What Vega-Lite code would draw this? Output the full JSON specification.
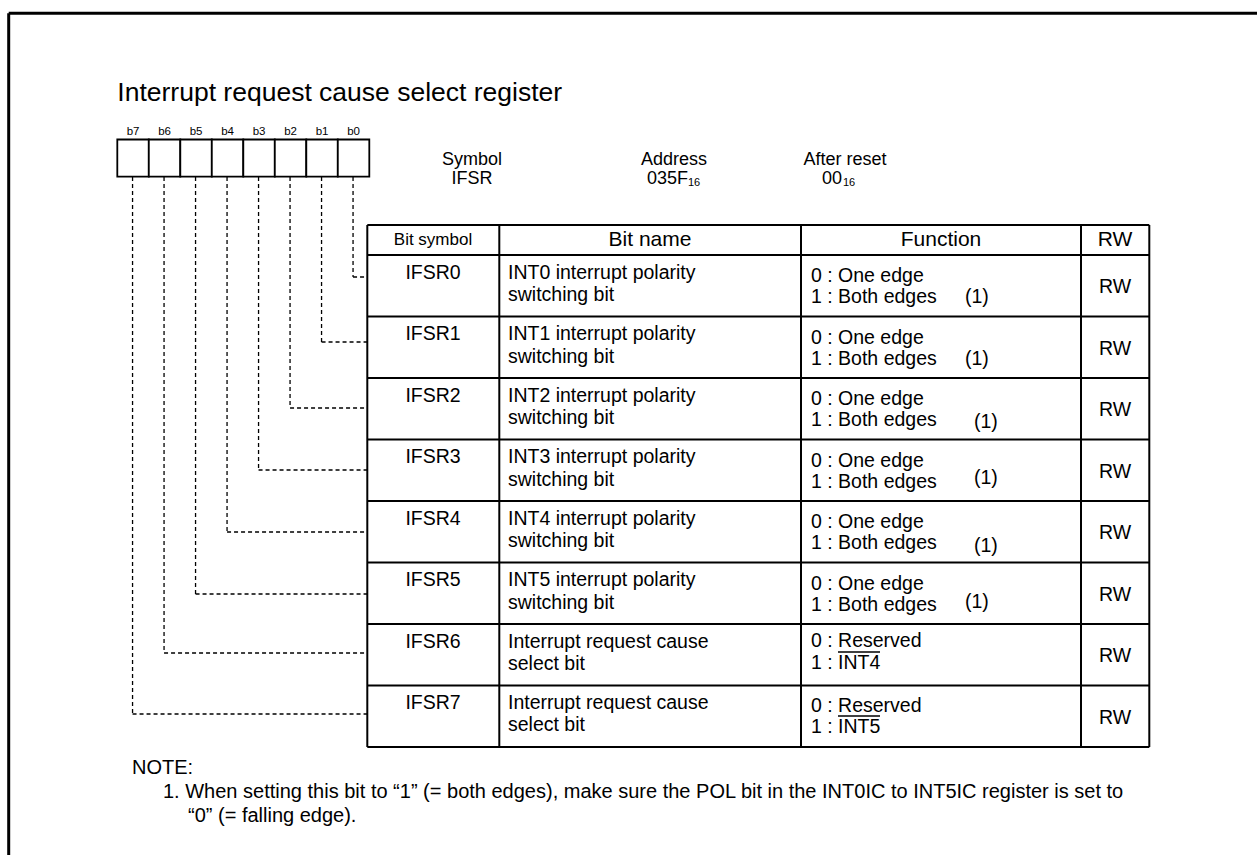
{
  "$schema": "https://vega.github.io/schema/vega-lite/v6.json",
  "width": 1257,
  "height": 855,
  "autosize": {"type": "none"},
  "padding": 0,
  "background": "white",
  "config": {"view": {"stroke": null}, "text": {"font": "Liberation Sans", "color": "black"}},
  "datasets": {
    "segments": [
      {"kind": "frame", "x": 8.7, "x2": 1257, "y": 13.3, "y2": 13.3},
      {"kind": "frame", "x": 8.7, "x2": 8.7, "y": 13.3, "y2": 855},
      {"kind": "table", "x": 367.3, "x2": 1149.3, "y": 225, "y2": 225},
      {"kind": "table", "x": 367.3, "x2": 1149.3, "y": 255, "y2": 255},
      {"kind": "table", "x": 367.3, "x2": 1149.3, "y": 316.5, "y2": 316.5},
      {"kind": "table", "x": 367.3, "x2": 1149.3, "y": 378, "y2": 378},
      {"kind": "table", "x": 367.3, "x2": 1149.3, "y": 439.5, "y2": 439.5},
      {"kind": "table", "x": 367.3, "x2": 1149.3, "y": 501, "y2": 501},
      {"kind": "table", "x": 367.3, "x2": 1149.3, "y": 562.5, "y2": 562.5},
      {"kind": "table", "x": 367.3, "x2": 1149.3, "y": 624, "y2": 624},
      {"kind": "table", "x": 367.3, "x2": 1149.3, "y": 685.5, "y2": 685.5},
      {"kind": "table", "x": 367.3, "x2": 1149.3, "y": 747, "y2": 747},
      {"kind": "table", "x": 367.3, "x2": 367.3, "y": 225, "y2": 747},
      {"kind": "table", "x": 499.3, "x2": 499.3, "y": 225, "y2": 747},
      {"kind": "table", "x": 801, "x2": 801, "y": 225, "y2": 747},
      {"kind": "table", "x": 1081, "x2": 1081, "y": 225, "y2": 747},
      {"kind": "table", "x": 1149.3, "x2": 1149.3, "y": 225, "y2": 747},
      {"kind": "dash", "x": 353.05, "x2": 353.05, "y": 177, "y2": 277},
      {"kind": "dash", "x": 353.05, "x2": 367.3, "y": 277, "y2": 277},
      {"kind": "dash", "x": 321.55, "x2": 321.55, "y": 177, "y2": 342},
      {"kind": "dash", "x": 321.55, "x2": 367.3, "y": 342, "y2": 342},
      {"kind": "dash", "x": 290.05, "x2": 290.05, "y": 177, "y2": 408},
      {"kind": "dash", "x": 290.05, "x2": 367.3, "y": 408, "y2": 408},
      {"kind": "dash", "x": 258.55, "x2": 258.55, "y": 177, "y2": 470},
      {"kind": "dash", "x": 258.55, "x2": 367.3, "y": 470, "y2": 470},
      {"kind": "dash", "x": 227.05, "x2": 227.05, "y": 177, "y2": 532},
      {"kind": "dash", "x": 227.05, "x2": 367.3, "y": 532, "y2": 532},
      {"kind": "dash", "x": 195.55, "x2": 195.55, "y": 177, "y2": 594},
      {"kind": "dash", "x": 195.55, "x2": 367.3, "y": 594, "y2": 594},
      {"kind": "dash", "x": 164.05, "x2": 164.05, "y": 177, "y2": 653},
      {"kind": "dash", "x": 164.05, "x2": 367.3, "y": 653, "y2": 653},
      {"kind": "dash", "x": 132.55, "x2": 132.55, "y": 177, "y2": 714},
      {"kind": "dash", "x": 132.55, "x2": 367.3, "y": 714, "y2": 714},
      {"kind": "over", "x": 838, "x2": 880, "y": 652, "y2": 652},
      {"kind": "over", "x": 838, "x2": 880, "y": 716, "y2": 716}
    ],
    "cells": [
      {"bit": "b7", "x": 117.3, "x2": 148.8, "y": 139.5, "y2": 176.7},
      {"bit": "b6", "x": 148.8, "x2": 180.3, "y": 139.5, "y2": 176.7},
      {"bit": "b5", "x": 180.3, "x2": 211.8, "y": 139.5, "y2": 176.7},
      {"bit": "b4", "x": 211.8, "x2": 243.3, "y": 139.5, "y2": 176.7},
      {"bit": "b3", "x": 243.3, "x2": 274.8, "y": 139.5, "y2": 176.7},
      {"bit": "b2", "x": 274.8, "x2": 306.3, "y": 139.5, "y2": 176.7},
      {"bit": "b1", "x": 306.3, "x2": 337.8, "y": 139.5, "y2": 176.7},
      {"bit": "b0", "x": 337.8, "x2": 369.3, "y": 139.5, "y2": 176.7}
    ],
    "texts": [
      {"kind": "title", "x": 117.3, "y": 92.5, "text": "Interrupt request cause select register"},
      {"kind": "bit", "x": 133.05, "y": 131.5, "text": "b7"},
      {"kind": "bit", "x": 164.55, "y": 131.5, "text": "b6"},
      {"kind": "bit", "x": 196.05, "y": 131.5, "text": "b5"},
      {"kind": "bit", "x": 227.55, "y": 131.5, "text": "b4"},
      {"kind": "bit", "x": 259.05, "y": 131.5, "text": "b3"},
      {"kind": "bit", "x": 290.55, "y": 131.5, "text": "b2"},
      {"kind": "bit", "x": 322.05, "y": 131.5, "text": "b1"},
      {"kind": "bit", "x": 353.55, "y": 131.5, "text": "b0"},
      {"kind": "info", "x": 472, "y": 160, "text": "Symbol"},
      {"kind": "info", "x": 472, "y": 179, "text": "IFSR"},
      {"kind": "info", "x": 674, "y": 160, "text": "Address"},
      {"kind": "info", "x": 845, "y": 160, "text": "After reset"},
      {"kind": "infoL", "x": 647, "y": 179, "text": "035F"},
      {"kind": "infoL", "x": 822, "y": 179, "text": "00"},
      {"kind": "sub", "x": 688, "y": 182.5, "text": "16"},
      {"kind": "sub", "x": 843, "y": 182.5, "text": "16"},
      {"kind": "hdrS", "x": 433, "y": 240, "text": "Bit symbol"},
      {"kind": "hdr", "x": 650, "y": 240, "text": "Bit name"},
      {"kind": "hdr", "x": 941, "y": 240, "text": "Function"},
      {"kind": "hdr", "x": 1115, "y": 240, "text": "RW"},

      {"kind": "cellC", "x": 433, "y": 272.5, "text": "IFSR0"},
      {"kind": "cellL", "x": 508, "y": 272.5, "text": "INT0 interrupt polarity"},
      {"kind": "cellL", "x": 508, "y": 295, "text": "switching bit"},
      {"kind": "cellL", "x": 811, "y": 276, "text": "0 : One edge"},
      {"kind": "cellL", "x": 811, "y": 297, "text": "1 : Both edges"},
      {"kind": "cellL", "x": 965, "y": 297, "text": "(1)"},
      {"kind": "cellC", "x": 1115, "y": 287, "text": "RW"},

      {"kind": "cellC", "x": 433, "y": 334, "text": "IFSR1"},
      {"kind": "cellL", "x": 508, "y": 334, "text": "INT1 interrupt polarity"},
      {"kind": "cellL", "x": 508, "y": 356.5, "text": "switching bit"},
      {"kind": "cellL", "x": 811, "y": 337.5, "text": "0 : One edge"},
      {"kind": "cellL", "x": 811, "y": 358.5, "text": "1 : Both edges"},
      {"kind": "cellL", "x": 965, "y": 358.5, "text": "(1)"},
      {"kind": "cellC", "x": 1115, "y": 348.5, "text": "RW"},

      {"kind": "cellC", "x": 433, "y": 395.5, "text": "IFSR2"},
      {"kind": "cellL", "x": 508, "y": 395.5, "text": "INT2 interrupt polarity"},
      {"kind": "cellL", "x": 508, "y": 418, "text": "switching bit"},
      {"kind": "cellL", "x": 811, "y": 399, "text": "0 : One edge"},
      {"kind": "cellL", "x": 811, "y": 420, "text": "1 : Both edges"},
      {"kind": "cellL", "x": 974, "y": 422, "text": "(1)"},
      {"kind": "cellC", "x": 1115, "y": 410, "text": "RW"},

      {"kind": "cellC", "x": 433, "y": 457, "text": "IFSR3"},
      {"kind": "cellL", "x": 508, "y": 457, "text": "INT3 interrupt polarity"},
      {"kind": "cellL", "x": 508, "y": 479.5, "text": "switching bit"},
      {"kind": "cellL", "x": 811, "y": 460.5, "text": "0 : One edge"},
      {"kind": "cellL", "x": 811, "y": 481.5, "text": "1 : Both edges"},
      {"kind": "cellL", "x": 974, "y": 478, "text": "(1)"},
      {"kind": "cellC", "x": 1115, "y": 471.5, "text": "RW"},

      {"kind": "cellC", "x": 433, "y": 518.5, "text": "IFSR4"},
      {"kind": "cellL", "x": 508, "y": 518.5, "text": "INT4 interrupt polarity"},
      {"kind": "cellL", "x": 508, "y": 541, "text": "switching bit"},
      {"kind": "cellL", "x": 811, "y": 522, "text": "0 : One edge"},
      {"kind": "cellL", "x": 811, "y": 543, "text": "1 : Both edges"},
      {"kind": "cellL", "x": 974, "y": 546, "text": "(1)"},
      {"kind": "cellC", "x": 1115, "y": 533, "text": "RW"},

      {"kind": "cellC", "x": 433, "y": 580, "text": "IFSR5"},
      {"kind": "cellL", "x": 508, "y": 580, "text": "INT5 interrupt polarity"},
      {"kind": "cellL", "x": 508, "y": 602.5, "text": "switching bit"},
      {"kind": "cellL", "x": 811, "y": 583.5, "text": "0 : One edge"},
      {"kind": "cellL", "x": 811, "y": 604.5, "text": "1 : Both edges"},
      {"kind": "cellL", "x": 965, "y": 602, "text": "(1)"},
      {"kind": "cellC", "x": 1115, "y": 594.5, "text": "RW"},

      {"kind": "cellC", "x": 433, "y": 641.5, "text": "IFSR6"},
      {"kind": "cellL", "x": 508, "y": 641.5, "text": "Interrupt request cause"},
      {"kind": "cellL", "x": 508, "y": 664, "text": "select bit"},
      {"kind": "cellL", "x": 811, "y": 641, "text": "0 : Reserved"},
      {"kind": "cellL", "x": 811, "y": 663, "text": "1 : INT4"},
      {"kind": "cellC", "x": 1115, "y": 656, "text": "RW"},

      {"kind": "cellC", "x": 433, "y": 702.5, "text": "IFSR7"},
      {"kind": "cellL", "x": 508, "y": 702.5, "text": "Interrupt request cause"},
      {"kind": "cellL", "x": 508, "y": 725, "text": "select bit"},
      {"kind": "cellL", "x": 811, "y": 706, "text": "0 : Reserved"},
      {"kind": "cellL", "x": 811, "y": 727, "text": "1 : INT5"},
      {"kind": "cellC", "x": 1115, "y": 718, "text": "RW"},

      {"kind": "note", "x": 132, "y": 768, "text": "NOTE:"},
      {"kind": "note", "x": 163, "y": 792, "text": "1. When setting this bit to “1” (= both edges), make sure the POL bit in the INT0IC to INT5IC register is set to"},
      {"kind": "note", "x": 188, "y": 816, "text": "“0” (= falling edge)."}
    ]
  },
  "layer": [
    {
      "data": {"name": "segments"},
      "transform": [{"filter": "datum.kind === 'frame'"}],
      "mark": {"type": "rule", "stroke": "black", "strokeWidth": 3},
      "encoding": {
        "x": {"field": "x", "type": "quantitative", "scale": {"domain": [0, 1257], "nice": false, "zero": false}, "axis": null},
        "x2": {"field": "x2"},
        "y": {"field": "y", "type": "quantitative", "scale": {"domain": [0, 855], "nice": false, "zero": false, "reverse": true}, "axis": null},
        "y2": {"field": "y2"}
      }
    },
    {
      "data": {"name": "segments"},
      "transform": [{"filter": "datum.kind === 'dash'"}],
      "mark": {"type": "rule", "stroke": "black", "strokeWidth": 1.3, "strokeDash": [4, 3]},
      "encoding": {
        "x": {"field": "x", "type": "quantitative", "axis": null},
        "x2": {"field": "x2"},
        "y": {"field": "y", "type": "quantitative", "axis": null},
        "y2": {"field": "y2"}
      }
    },
    {
      "data": {"name": "cells"},
      "mark": {"type": "rect", "fill": "white", "stroke": "black", "strokeWidth": 1.8},
      "encoding": {
        "x": {"field": "x", "type": "quantitative", "axis": null},
        "x2": {"field": "x2"},
        "y": {"field": "y", "type": "quantitative", "axis": null},
        "y2": {"field": "y2"}
      }
    },
    {
      "data": {"name": "segments"},
      "transform": [{"filter": "datum.kind === 'table'"}],
      "mark": {"type": "rule", "stroke": "black", "strokeWidth": 2},
      "encoding": {
        "x": {"field": "x", "type": "quantitative", "axis": null},
        "x2": {"field": "x2"},
        "y": {"field": "y", "type": "quantitative", "axis": null},
        "y2": {"field": "y2"}
      }
    },
    {
      "data": {"name": "segments"},
      "transform": [{"filter": "datum.kind === 'over'"}],
      "mark": {"type": "rule", "stroke": "black", "strokeWidth": 1.3},
      "encoding": {
        "x": {"field": "x", "type": "quantitative", "axis": null},
        "x2": {"field": "x2"},
        "y": {"field": "y", "type": "quantitative", "axis": null},
        "y2": {"field": "y2"}
      }
    },
    {
      "data": {"name": "texts"},
      "transform": [{"filter": "datum.kind === 'title'"}],
      "mark": {"type": "text", "fontSize": 26.5, "align": "left", "baseline": "middle"},
      "encoding": {"x": {"field": "x", "type": "quantitative", "axis": null}, "y": {"field": "y", "type": "quantitative", "axis": null}, "text": {"field": "text"}}
    },
    {
      "data": {"name": "texts"},
      "transform": [{"filter": "datum.kind === 'bit'"}],
      "mark": {"type": "text", "fontSize": 11.5, "align": "center", "baseline": "middle"},
      "encoding": {"x": {"field": "x", "type": "quantitative", "axis": null}, "y": {"field": "y", "type": "quantitative", "axis": null}, "text": {"field": "text"}}
    },
    {
      "data": {"name": "texts"},
      "transform": [{"filter": "datum.kind === 'info'"}],
      "mark": {"type": "text", "fontSize": 18, "align": "center", "baseline": "middle"},
      "encoding": {"x": {"field": "x", "type": "quantitative", "axis": null}, "y": {"field": "y", "type": "quantitative", "axis": null}, "text": {"field": "text"}}
    },
    {
      "data": {"name": "texts"},
      "transform": [{"filter": "datum.kind === 'infoL'"}],
      "mark": {"type": "text", "fontSize": 18, "align": "left", "baseline": "middle"},
      "encoding": {"x": {"field": "x", "type": "quantitative", "axis": null}, "y": {"field": "y", "type": "quantitative", "axis": null}, "text": {"field": "text"}}
    },
    {
      "data": {"name": "texts"},
      "transform": [{"filter": "datum.kind === 'sub'"}],
      "mark": {"type": "text", "fontSize": 11, "align": "left", "baseline": "middle"},
      "encoding": {"x": {"field": "x", "type": "quantitative", "axis": null}, "y": {"field": "y", "type": "quantitative", "axis": null}, "text": {"field": "text"}}
    },
    {
      "data": {"name": "texts"},
      "transform": [{"filter": "datum.kind === 'hdrS'"}],
      "mark": {"type": "text", "fontSize": 17, "align": "center", "baseline": "middle"},
      "encoding": {"x": {"field": "x", "type": "quantitative", "axis": null}, "y": {"field": "y", "type": "quantitative", "axis": null}, "text": {"field": "text"}}
    },
    {
      "data": {"name": "texts"},
      "transform": [{"filter": "datum.kind === 'hdr'"}],
      "mark": {"type": "text", "fontSize": 21, "align": "center", "baseline": "middle"},
      "encoding": {"x": {"field": "x", "type": "quantitative", "axis": null}, "y": {"field": "y", "type": "quantitative", "axis": null}, "text": {"field": "text"}}
    },
    {
      "data": {"name": "texts"},
      "transform": [{"filter": "datum.kind === 'cellC'"}],
      "mark": {"type": "text", "fontSize": 19.5, "align": "center", "baseline": "middle"},
      "encoding": {"x": {"field": "x", "type": "quantitative", "axis": null}, "y": {"field": "y", "type": "quantitative", "axis": null}, "text": {"field": "text"}}
    },
    {
      "data": {"name": "texts"},
      "transform": [{"filter": "datum.kind === 'cellL'"}],
      "mark": {"type": "text", "fontSize": 19.5, "align": "left", "baseline": "middle"},
      "encoding": {"x": {"field": "x", "type": "quantitative", "axis": null}, "y": {"field": "y", "type": "quantitative", "axis": null}, "text": {"field": "text"}}
    },
    {
      "data": {"name": "texts"},
      "transform": [{"filter": "datum.kind === 'note'"}],
      "mark": {"type": "text", "fontSize": 20, "align": "left", "baseline": "middle"},
      "encoding": {"x": {"field": "x", "type": "quantitative", "axis": null}, "y": {"field": "y", "type": "quantitative", "axis": null}, "text": {"field": "text"}}
    }
  ]
}
